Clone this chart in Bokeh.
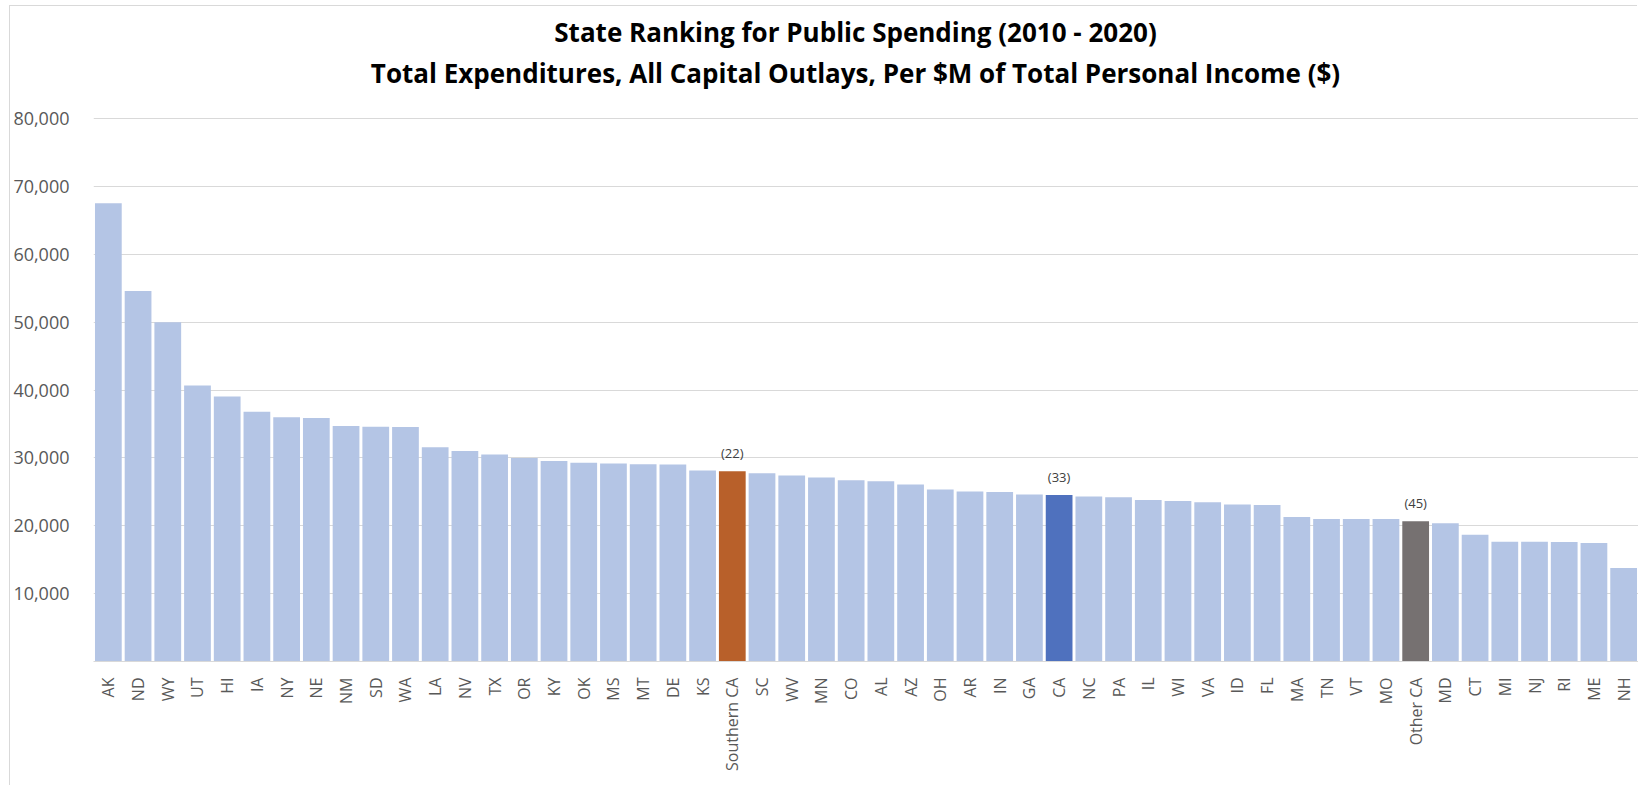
from bokeh.plotting import figure
from bokeh.models import ColumnDataSource, FixedTicker, NumeralTickFormatter, Label, LabelSet, FactorRange
from bokeh.core.properties import value
from bokeh.embed import file_html
from bokeh.resources import INLINE
import math

states = ["AK", "ND", "WY", "UT", "HI", "IA", "NY", "NE", "NM", "SD", "WA", "LA", "NV", "TX",
          "OR", "KY", "OK", "MS", "MT", "DE", "KS", "Southern CA", "SC", "WV", "MN", "CO", "AL",
          "AZ", "OH", "AR", "IN", "GA", "CA", "NC", "PA", "IL", "WI", "VA", "ID", "FL", "MA",
          "TN", "VT", "MO", "Other CA", "MD", "CT", "MI", "NJ", "RI", "ME", "NH"]
spending = [67500, 54600, 50000, 40650, 39030, 36810, 35970, 35880, 34700, 34600, 34550, 31550,
            31000, 30510, 29970, 29530, 29280, 29170, 29070, 29020, 28140, 28040, 27740, 27400,
            27100, 26710, 26560, 26070, 25330, 25040, 24990, 24590, 24540, 24300, 24200, 23810,
            23660, 23460, 23120, 23070, 21300, 21000, 21000, 21000, 20660, 20360, 18690, 17660,
            17660, 17610, 17460, 13770]
rank_labels = {"Southern CA": "(22)", "CA": "(33)", "Other CA": "(45)"}
y_ticks = [10000, 20000, 30000, 40000, 50000, 60000, 70000, 80000]
title_line1 = "State Ranking for Public Spending (2010 - 2020)"
title_line2 = "Total Expenditures, All Capital Outlays, Per $M of Total Personal Income ($)"

base_color = "#b4c5e5"
highlight = {"Southern CA": "#b8602a", "CA": "#4f71be", "Other CA": "#767171"}
colors = [highlight.get(s, base_color) for s in states]

src = ColumnDataSource(dict(x=states, top=spending, color=colors))
lab_x = [s for s in states if s in rank_labels]
lab_src = ColumnDataSource(dict(
    x=lab_x,
    y=[spending[states.index(s)] for s in lab_x],
    text=[rank_labels[s] for s in lab_x]))

# the frame reaches up into the title area; 80,000 stays at the former frame top
frame_top_px, axis_top_px, base_px = 12, 118, 661
y_end = 80000 * (base_px - frame_top_px) / (base_px - axis_top_px)

p = figure(x_range=FactorRange(*states, range_padding=0), y_range=(0, y_end),
           width=1628, height=780, output_backend="svg", toolbar_location=None,
           title=None, min_border_left=80, min_border_right=0, min_border_top=6,
           min_border_bottom=125)
p.styles = {"margin-left": "10px", "margin-top": "6px",
            "box-shadow": "-1px -1px 0 0 #d9d9d9"}

p.vbar(x="x", top="top", width=0.9, color="color", source=src, line_color=None)

labels = LabelSet(x="x", y="y", text="text", source=lab_src, text_align="center",
                  text_baseline="bottom", y_offset=9, text_font=value("Open Sans"),
                  text_font_size="13px", text_color="#404040")
p.add_layout(labels)

# chart titles, positioned in screen px from the frame's bottom-left corner
for txt, ty in ((title_line1, base_px - 31), (title_line2, base_px - 72)):
    p.add_layout(Label(x=762, y=ty, x_units="screen", y_units="screen", text=txt,
                       text_align="center", text_baseline="middle", text_font="Open Sans",
                       text_font_size="26px", text_font_style="bold", text_color="#000000"))

p.outline_line_color = None
p.background_fill_color = "white"
p.border_fill_color = "white"

p.xgrid.grid_line_color = None
p.ygrid.grid_line_color = "#d9d9d9"
p.ygrid.grid_line_width = 1

p.yaxis.ticker = FixedTicker(ticks=y_ticks)
p.yaxis.formatter = NumeralTickFormatter(format="0,0")
p.yaxis.axis_line_color = None
p.yaxis.major_tick_line_color = None
p.yaxis.minor_tick_line_color = None
p.yaxis.major_label_standoff = 18
p.yaxis.major_label_text_font = "Open Sans"
p.yaxis.major_label_text_font_size = "18px"
p.yaxis.major_label_text_color = "#595959"

p.xaxis.axis_line_color = "#d9d9d9"
p.xaxis.axis_line_width = 1
p.xaxis.major_tick_line_color = None
p.xaxis.minor_tick_line_color = None
p.xaxis.major_label_orientation = math.pi / 2
p.xaxis.major_label_standoff = 10
p.xaxis.major_label_text_font = "Open Sans"
p.xaxis.major_label_text_font_size = "16px"
p.xaxis.major_label_text_color = "#595959"

open("out.html", "w").write(file_html(p, INLINE))
